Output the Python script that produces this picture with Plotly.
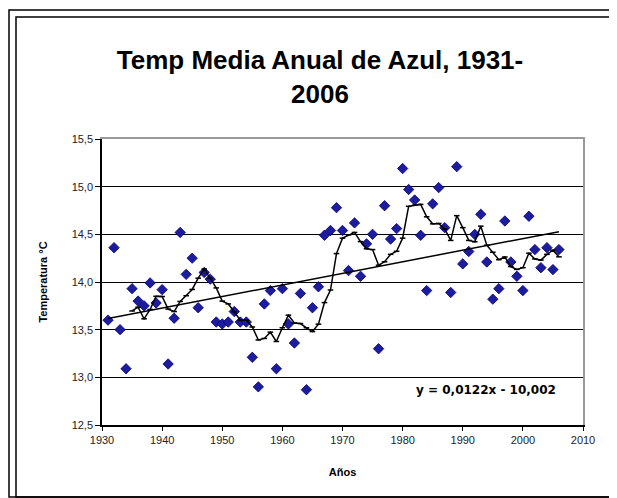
import numpy as np
import pandas as pd
import plotly.graph_objects as go

years = list(range(1931, 2007))
temps = [
    13.60, 14.36, 13.50, 13.09, 13.93, 13.80, 13.75, 13.99, 13.78, 13.92,  # 1931-1940
    13.14, 13.62, 14.52, 14.08, 14.25, 13.73, 14.10, 14.03, 13.58, 13.56,  # 1941-1950
    13.58, 13.69, 13.58, 13.58, 13.21, 12.90, 13.77, 13.91, 13.09, 13.93,  # 1951-1960
    13.56, 13.36, 13.88, 12.87, 13.73, 13.95, 14.49, 14.54, 14.78, 14.54,  # 1961-1970
    14.12, 14.62, 14.06, 14.40, 14.50, 13.30, 14.80, 14.45, 14.56, 15.19,  # 1971-1980
    14.97, 14.86, 14.49, 13.91, 14.82, 14.99, 14.57, 13.89, 15.21, 14.19,  # 1981-1990
    14.32, 14.50, 14.71, 14.21, 13.82, 13.93, 14.64, 14.21, 14.06, 13.91,  # 1991-2000
    14.69, 14.34, 14.15, 14.36, 14.13, 14.34,                              # 2001-2006
]
ma_window = 5
y_ticks = [12.5, 13.0, 13.5, 14.0, 14.5, 15.0, 15.5]
x_ticks = [1930, 1940, 1950, 1960, 1970, 1980, 1990, 2000, 2010]
eq_label = "y = 0,0122x - 10,002"
title_text = "Temp Media Anual de Azul, 1931-<br>2006"

ma = pd.Series(temps, index=years).rolling(ma_window).mean()
slope, intercept = np.polyfit(years, temps, 1)
trend_x = [years[0], years[-1]]
trend_y = [slope * x + intercept for x in trend_x]

# page body has an 8px margin: work in window pixels, convert to figure pixels
OFF = 8
W, H = 617 - OFF, 498 - OFF
plot_left, plot_right, plot_top, plot_bottom = 102, 583, 139, 425  # window px
L = plot_left - OFF
R = W - (plot_right - OFF)
T = plot_top - OFF
B = H - (plot_bottom - OFF)
pw, ph = W - L - R, H - T - B

def px(x):
    return (x - OFF - L) / pw

def py(y):
    return (H - B - (y - OFF)) / ph

fig = go.Figure()
fig.add_trace(go.Scatter(
    x=years, y=temps, mode="markers",
    marker=dict(symbol="diamond", size=8, color="#1c1c9c", line=dict(color="#000080", width=0.8)),
    showlegend=False))
fig.add_trace(go.Scatter(
    x=trend_x, y=trend_y, mode="lines",
    line=dict(color="black", width=1.5), showlegend=False))
fig.add_trace(go.Scatter(
    x=ma.index[ma.notna()], y=ma[ma.notna()], mode="lines+markers",
    line=dict(color="black", width=1.5),
    marker=dict(symbol="line-ew", size=4, color="black", line=dict(color="black", width=1.5)),
    showlegend=False))
# invisible trace on overlay axes that draw the gray top/right plot-area border
fig.add_trace(go.Scatter(x=[x_ticks[0]], y=[y_ticks[0]], xaxis="x2", yaxis="y2",
                         mode="markers", marker=dict(opacity=0), showlegend=False, hoverinfo="skip"))

font = "Arial, Liberation Sans, sans-serif"
wide_font = "DejaVu Sans, Arial, sans-serif"
fig.update_layout(
    width=W, height=H,
    margin=dict(l=L, r=R, t=T, b=B, autoexpand=False),
    paper_bgcolor="white", plot_bgcolor="white",
    separators=",.",
    font=dict(family=font, color="#222"),
    title=dict(
        text=title_text,
        font=dict(family=font, size=26, color="black", weight="bold"),
        x=(320 - OFF) / W, xanchor="center", y=1 - (69 - OFF) / H, yanchor="middle"),
    xaxis=dict(range=[1930, 2010], tickvals=x_ticks, ticks="outside", ticklen=4,
               tickcolor="black", showline=True, linecolor="black", linewidth=1.5,
               showgrid=False, zeroline=False, tickfont=dict(size=11, color="#222"),
               title=dict(text="<b>Años</b>", font=dict(size=11, color="black"), standoff=23)),
    yaxis=dict(range=[12.5, 15.5], tickvals=y_ticks, tickformat=".1f", ticks="outside",
               ticklen=5, tickcolor="black", showline=True, linecolor="black", linewidth=1.5,
               showgrid=True, gridcolor="black", gridwidth=1.2, zeroline=False,
               tickfont=dict(size=11, color="#222"),
               title=dict(text="<b>Temperatura °C</b>", font=dict(size=11, color="black"), standoff=22)),
    xaxis2=dict(range=[1930, 2010], overlaying="x", side="top", showline=True,
                linecolor="#999", linewidth=2, showticklabels=False, ticks="",
                showgrid=False, zeroline=False, anchor="y2"),
    yaxis2=dict(range=[12.5, 15.5], overlaying="y", side="right", showline=True,
                linecolor="#999", linewidth=2, showticklabels=False, ticks="",
                showgrid=False, zeroline=False, anchor="x2"),
    annotations=[dict(text="<b>" + eq_label + "</b>", x=px(486), y=py(390),
                      xref="paper", yref="paper", showarrow=False,
                      font=dict(family=wide_font, size=12, color="black"),
                      xanchor="center", yanchor="middle")],
    shapes=[
        dict(type="rect", xref="paper", yref="paper",
             x0=px(9), x1=px(612), y0=py(497), y1=py(10),
             line=dict(color="black", width=1.5)),
        dict(type="rect", xref="paper", yref="paper",
             x0=px(16), x1=px(612), y0=py(497), y1=py(17),
             line=dict(color="black", width=1.5)),
    ],
)

fig.write_html("out.html")
